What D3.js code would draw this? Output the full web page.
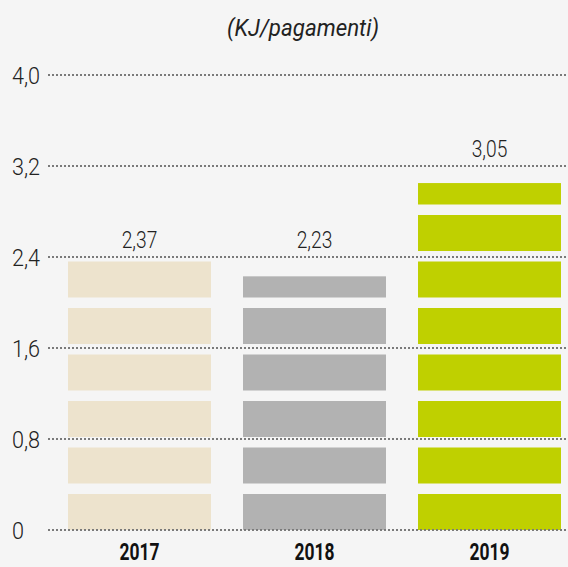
<!DOCTYPE html>
<html>
<head>
<meta charset="utf-8">
<script src="https://cdn.jsdelivr.net/npm/d3@7"></script>
<style>
  html, body { margin: 0; padding: 0; background: #f5f5f5; }
  svg { display: block; }
  .num { font-family: Roboto, "DejaVu Sans Condensed", sans-serif; }
</style>
</head>
<body>
<svg id="chart" width="568" height="567"></svg>
<script>
// Energy per payment, by year
const years = ["2017", "2018", "2019"];
const values = [2.37, 2.23, 3.05];
const yTicks = [0, 0.8, 1.6, 2.4, 3.2, 4.0];
const barColors = ["#ede3cd", "#b2b2b2", "#bfd000"];
const unitLabel = "(KJ/pagamenti)";

const W = 568, H = 567;
const svg = d3.select("#chart");
svg.append("rect").attr("width", W).attr("height", H).attr("fill", "#f5f5f5");

// Italian number formatting (comma as decimal separator)
const it = d3.formatLocale({ decimal: ",", thousands: ".", grouping: [3], currency: ["€", ""] });
const fmtTick = v => v === 0 ? "0" : it.format(".1f")(v);
const fmtVal = it.format(".2f");

const y = d3.scaleLinear().domain([0, 4.0]).range([530, 75]);
const x = d3.scaleBand().domain(years).range([52, 577]).paddingInner(0.183).paddingOuter(0.0915);

// Narrowed type for all numerals
const narrow = 0.8;

// Bars drawn as stacked slabs separated by thin gaps
const slabStep = 46.5, slabH = 36;
const data = years.map((yr, i) => ({ year: yr, value: values[i], color: barColors[i] }));

const bars = svg.append("g").selectAll("g").data(data).join("g")
  .attr("fill", d => d.color);

bars.each(function (d) {
  const top = y(d.value), base = y(0);
  const slabs = [];
  for (let b = base; b > top + 0.5; b -= slabStep) {
    const t = Math.max(b - slabH, top);
    slabs.push({ y: t, h: b - t });
  }
  d3.select(this).selectAll("rect").data(slabs).join("rect")
    .attr("x", x(d.year))
    .attr("width", x.bandwidth())
    .attr("y", s => s.y)
    .attr("height", s => s.h);
});

// Dotted gridlines with left-aligned tick labels
const yAxis = svg.append("g");
yAxis.selectAll("line").data(yTicks).join("line")
  .attr("x1", 48).attr("x2", W)
  .attr("y1", d => y(d)).attr("y2", d => y(d))
  .attr("stroke", "#7a7a7a")
  .attr("stroke-width", 2)
  .attr("stroke-dasharray", "2 2");

yAxis.selectAll("text").data(yTicks).join("text")
  .attr("class", "num")
  .attr("transform", d => `translate(12,${y(d)}) scale(0.9,1)`)
  .attr("dy", "0.36em")
  .attr("font-size", 24)
  .attr("font-weight", 300)
  .attr("fill", "#222")
  .text(fmtTick);

// Value labels sit just above the first gridline at or above the bar top
svg.append("g").selectAll("text").data(data).join("text")
  .attr("class", "num")
  .attr("transform", d => `translate(${x(d.year) + x.bandwidth() / 2},${y(yTicks[d3.bisectLeft(yTicks, d.value)]) - 9}) scale(${narrow},1)`)
  .attr("text-anchor", "middle")
  .attr("font-size", 24)
  .attr("font-weight", 300)
  .attr("fill", "#222")
  .text(d => fmtVal(d.value));

// Year labels along the bottom
svg.append("g").selectAll("text").data(years).join("text")
  .attr("class", "num")
  .attr("transform", d => `translate(${x(d) + x.bandwidth() / 2},560) scale(0.76,1)`)
  .attr("text-anchor", "middle")
  .attr("font-size", 23)
  .attr("font-weight", 700)
  .attr("fill", "#111")
  .text(d => d);

// Unit label
svg.append("text")
  .attr("transform", "translate(303,36) scale(0.95,1)")
  .attr("text-anchor", "middle")
  .attr("font-family", "Roboto, 'Liberation Sans', sans-serif")
  .attr("font-style", "italic")
  .attr("font-size", 23.5)
  .attr("fill", "#222")
  .text(unitLabel);
</script>
</body>
</html>
